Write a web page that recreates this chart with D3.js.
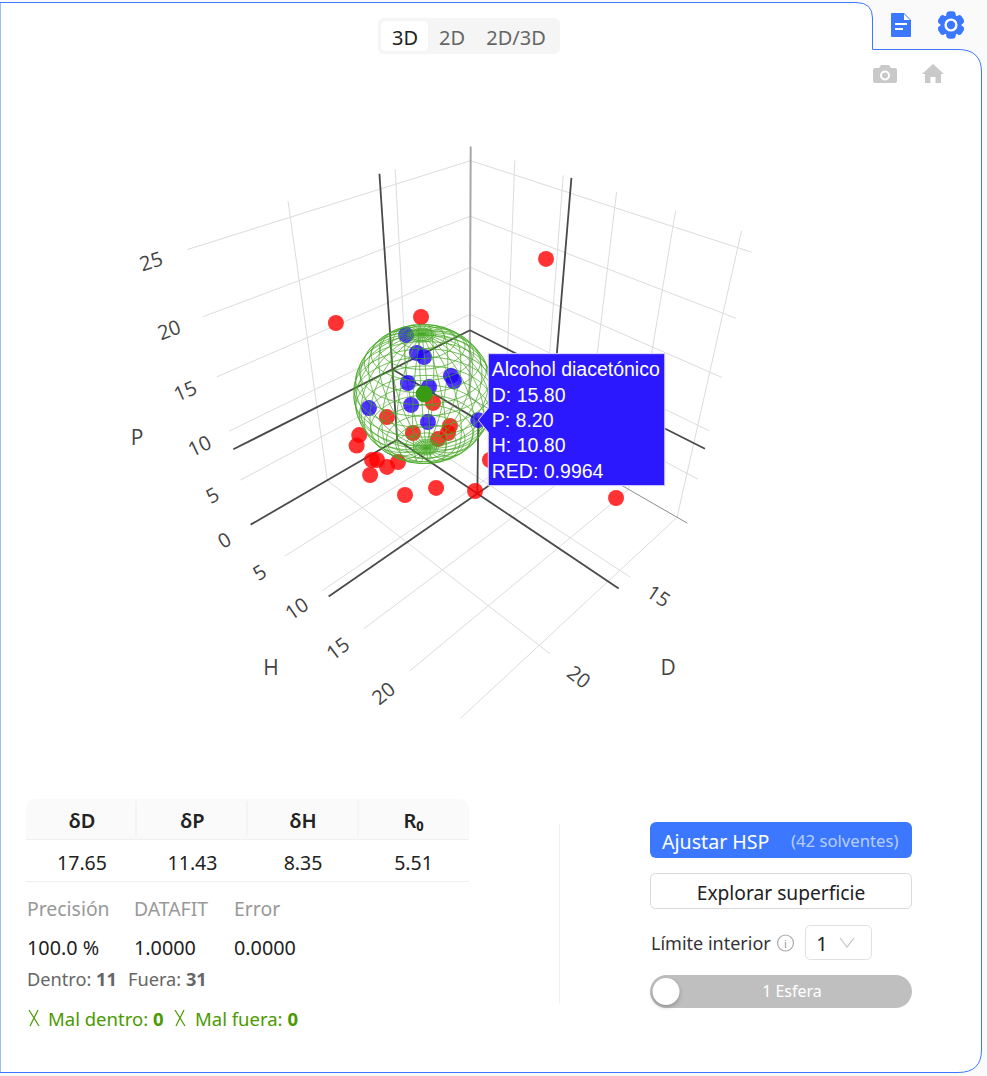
<!DOCTYPE html>
<html lang="es"><head><meta charset="utf-8">
<script src="https://cdn.jsdelivr.net/npm/d3@7"></script>
<style>
html,body{margin:0;padding:0;background:#fafafa;overflow:hidden}
svg{display:block}
text{font-family:"Noto Sans","Open Sans",sans-serif}
</style></head><body>
<svg id="chart" width="987" height="1076"></svg>
<script>
// Hansen solubility values of the solvents inside the sphere
const insideD=[17.33,17.27,17.14,17.98,17.45,16.54,16.58,18.21,19.53,18.06,15.80];
const insideP=[15.5,14.25,14,12.25,12,12.5,12.25,10.75,10.75,9.75,8.20];
const insideH=[5.77,6.83,7.36,7.22,8.52,9.15,9.56,8.01,6.00,9.60,10.80];
// Solvents outside the sphere
const outsideD=[17.13,17.42,19.98,14.32,17.44,16.56,15.01,14.99,15.63,18.00,18.20,18.18,17.84,17.25,17.83,18.56,18.15,16.85,15.75,15.53,15.47];
const outsideP=[26.2,18,18,4,6,4,4,3,3,3,2,1.5,1,1,1,0.5,0,0,0,8,4];
const outsideH=[18.80,7.82,4.12,2.09,2.85,4.19,5.78,5.47,5.47,0,0,2.09,1.93,3.50,3.32,2.63,6.41,7.68,10.42,24.25,11.62];
// Fitted sphere
const hspValues=[17.65,11.43,8.35,5.51];
const hspHeaders=["δD","δP","δH","R₀"];
// Axis ticks
const ticksD=[15,20];
const ticksH=[0,5,10,15,20,25];
const ticksP=[0,5,10,15,20,25];
const labelledH=[5,10,15,20];
const domainD=[10.75,24],domainH=[0,26],domainP=[0,26.2];
// Hovered solvent
const hoverName="Alcohol diacetónico",hoverD=15.80,hoverP=8.20,hoverH=10.80,hoverRED=0.9964;

const scaleD=d3.scaleLinear().domain(domainD).range([0,1]);
const scaleH=d3.scaleLinear().domain(domainH).range([0,1]);
const scaleP=d3.scaleLinear().domain(domainP).range([0,1]);

// Perspective camera acting on the unit cube
const cam=[[-231.3818,77.2352,-76.7249,404.9293],
           [20.2242,23.9726,-240.8244,343.0415],
           [-0.169802,-0.160702,-0.164967,0.862236]];
const cubeW=(u,v,t)=>cam[2][0]*u+cam[2][1]*v+cam[2][2]*t+cam[2][3];
const cube=(u,v,t)=>{
  const w=cubeW(u,v,t);
  return [(cam[0][0]*u+cam[0][1]*v+cam[0][2]*t+cam[0][3])/w,
          (cam[1][0]*u+cam[1][1]*v+cam[1][2]*t+cam[1][3])/w];
};
const project=(d,h,p)=>cube(scaleD(d),scaleH(h),scaleP(p));

const svg=d3.select("#chart");
const BLUE="#3b78ff";

// Page frame
svg.append("path").attr("fill","#fff").attr("stroke",BLUE).attr("stroke-width",1)
  .attr("d","M0,2.5H856Q872.5,2.5 872.5,18V49.5H958Q981.5,49.5 981.5,72V1050Q981.5,1072.5 958,1072.5H0Z");

const scene=svg.append("g");
const seg=(a,b,stroke,width)=>{
  const pa=project(...a),pb=project(...b);
  scene.append("line").attr("x1",pa[0]).attr("y1",pa[1]).attr("x2",pb[0]).attr("y2",pb[1])
    .attr("stroke",stroke).attr("stroke-width",width);
};
const [d0,d1]=domainD,[h0,h1]=domainH,[p0,p1]=domainP;
const GRID="#dcdcdc";
// Grid on the three walls
ticksP.filter(p=>p>0).forEach(p=>{seg([d0,0,p],[d1,0,p],GRID,1);seg([d0,0,p],[d0,h1,p],GRID,1);});
ticksD.forEach(d=>{seg([d,0,p0],[d,0,p1],GRID,1);seg([d,0,p0],[d,h1,p0],GRID,1);});
ticksH.filter(h=>h>0).forEach(h=>{seg([d0,h,p0],[d0,h,p1],GRID,1);seg([d0,h,p0],[d1,h,p0],GRID,1);});
// Zero lines
seg([d0,0,p0],[d0,0,p1],"#a8a8a8",2);
seg([d0,0,0],[d0,h1,0],"#8c8c8c",1);
seg([d0,0,0],[hoverD,0,0],"#c4c4c4",1);
// Spikes of the hovered solvent
const SPIKE="#4a4a4a";
seg([hoverD,0,0],[d1,0,0],SPIKE,1.8);
seg([d0,0,hoverP],[d1,0,hoverP],SPIKE,1.8);
seg([d0,0,hoverP],[d0,h1,hoverP],SPIKE,1.8);
seg([hoverD,0,p0],[hoverD,0,p1],SPIKE,1.8);
seg([d0,hoverH,p0],[d0,hoverH,p1],SPIKE,1.8);
seg([hoverD,0,p0],[hoverD,h1,p0],SPIKE,1.8);
seg([d0,hoverH,p0],[d1,hoverH,p0],SPIKE,1.8);
seg([hoverD,0,hoverP],[hoverD,hoverH,hoverP],SPIKE,1.8);
seg([hoverD,hoverH,0],[hoverD,hoverH,hoverP],SPIKE,1.8);
seg([d0,hoverH,hoverP],[hoverD,hoverH,hoverP],SPIKE,1.8);

// Tick labels follow the direction of their grid lines
const tickLabel=(a,b,pos,txt)=>{
  const pa=project(...a),pb=project(...b),c=pos;
  let ang=Math.atan2(pb[1]-pa[1],pb[0]-pa[0])*180/Math.PI;
  scene.append("text").attr("transform",`translate(${c[0]},${c[1]}) rotate(${ang})`)
    .attr("text-anchor","middle").attr("dominant-baseline","central")
    .attr("fill","#444").attr("font-size",20).style("font-family","'Open Sans'").text(txt);
};
ticksP.forEach(p=>tickLabel([d1,0,p],[d0,0,p],cube(1.095,0,scaleP(p)),p));
labelledH.forEach(h=>tickLabel([d1,h,0],[d0,h,0],cube(1.09,scaleH(h),0),h));
ticksD.forEach(d=>tickLabel([d,0,0],[d,h1,0],cube(scaleD(d),1.1,0),d));
[["P",137,437],["H",271,667],["D",668,667]].forEach(([t,x,y])=>{
  scene.append("text").attr("x",x).attr("y",y).attr("text-anchor","middle").attr("dominant-baseline","central")
    .attr("fill","#444").attr("font-size",21).style("font-family","'Open Sans'").text(t);
});

const markers=(D,P,H,fill)=>{
  scene.append("g").selectAll("circle").data(d3.range(D.length)).join("circle")
    .attr("cx",i=>project(D[i],H[i],P[i])[0]).attr("cy",i=>project(D[i],H[i],P[i])[1])
    .attr("r",8).attr("fill",fill).attr("fill-opacity",0.8);
};

// Wireframe of the sphere; the dispersion term counts double in Hansen space
const [cD,cP,cH,R0]=hspValues;
const surfData=(phi,th)=>[cD+R0/2*Math.cos(phi)*Math.cos(th),cH+R0*Math.cos(phi)*Math.sin(th),cP+R0*Math.sin(phi)];
const latCount=20,lonCount=28;
const wireSegments=[];
const pushRing=phi=>d3.range(72).forEach(k=>wireSegments.push([surfData(phi,2*Math.PI*k/72),surfData(phi,2*Math.PI*(k+1)/72)]));
d3.range(latCount+1).forEach(i=>pushRing(-Math.PI/2+Math.PI*i/latCount));
// Tight rings around both poles of the mesh
d3.range(1,7).forEach(k=>{const off=k*1.8*Math.PI/180;pushRing(Math.PI/2-off);pushRing(-Math.PI/2+off);});
d3.range(lonCount).forEach(j=>{
  const th=2*Math.PI*j/lonCount;
  d3.range(48).forEach(k=>wireSegments.push([surfData(-Math.PI/2+Math.PI*k/48,th),surfData(-Math.PI/2+Math.PI*(k+1)/48,th)]));
});
const depth=(d,h,p)=>cubeW(scaleD(d),scaleH(h),scaleP(p));
const centreDepth=depth(cD,cH,cP);
const isFront=s=>depth((s[0][0]+s[1][0])/2,(s[0][1]+s[1][1])/2,(s[0][2]+s[1][2])/2)<centreDepth;
const wireLayer=list=>scene.append("path").attr("fill","none").attr("stroke","#46a824").attr("stroke-width",0.9).attr("stroke-opacity",0.82)
  .attr("d",list.map(s=>{const a=project(...s[0]),b=project(...s[1]);return `M${a[0].toFixed(2)},${a[1].toFixed(2)}L${b[0].toFixed(2)},${b[1].toFixed(2)}`;}).join(""));

// Outside solvents lie behind the shell, inside solvents between its halves
markers(outsideD,outsideP,outsideH,"#ff0000");
wireLayer(wireSegments.filter(s=>!isFront(s)));
markers(insideD,insideP,insideH,"#2200ff");
wireLayer(wireSegments.filter(isFront));
const centre=project(cD,cH,cP);
scene.append("circle").attr("cx",centre[0]).attr("cy",centre[1]).attr("r",8.5).attr("fill","#399a14");

// Hover label
const hp=project(hoverD,hoverH,hoverP);
const tip=svg.append("g");
const bx=hp[0]+10,by=hp[1]-66.5,bw=176.5,bh=132;
tip.append("path").attr("fill","#2b18ff").attr("stroke","#dcd8ff").attr("stroke-width",1)
  .attr("d",`M${bx},${by}H${bx+bw}V${by+bh}H${bx}V${hp[1]+12}L${hp[0]},${hp[1]}L${bx},${hp[1]-12}Z`);
[hoverName,`D: ${hoverD.toFixed(2)}`,`P: ${hoverP.toFixed(2)}`,`H: ${hoverH.toFixed(2)}`,`RED: ${hoverRED.toFixed(4)}`].forEach((t,i)=>{
  tip.append("text").attr("x",bx+3.5).attr("y",by+22.5+i*25.4).attr("fill","#fff").attr("font-size",19.5)
    .style("font-family","'Liberation Sans'").text(t);
});

// Plot mode switch
const ui=svg.append("g");
const label=(x,y,t,size,fill,anchor,weight)=>ui.append("text").attr("x",x).attr("y",y).attr("font-size",size).attr("fill",fill)
  .attr("text-anchor",anchor||"start").attr("dominant-baseline","central").attr("font-weight",weight||400).text(t);
ui.append("rect").attr("x",378).attr("y",18).attr("width",182).attr("height",36).attr("rx",6).attr("fill","#f5f5f5");
ui.append("rect").attr("x",381).attr("y",21).attr("width",47).attr("height",30).attr("rx",4).attr("fill","#fff");
label(405,37,"3D",20,"#222","middle");
label(452,37,"2D",20,"#666","middle");
label(516,37,"2D/3D",20,"#666","middle");

// Document and settings icons
ui.append("path").attr("fill",BLUE).attr("d","M892,13H904L911,20V36Q911,37 910,37H892Q891,37 891,36V14Q891,13 892,13Z");
ui.append("path").attr("fill","#fff").attr("d","M904,14L910,20H904Z");
ui.append("rect").attr("x",895).attr("y",23).attr("width",12).attr("height",2).attr("fill","#fff");
ui.append("rect").attr("x",895).attr("y",28).attr("width",8).attr("height",2).attr("fill","#fff");
const gear=ui.append("g").attr("transform","translate(951,25)");
d3.range(6).forEach(i=>gear.append("rect").attr("x",-4.5).attr("y",-13.5).attr("width",9).attr("height",27).attr("rx",3).attr("fill",BLUE).attr("transform",`rotate(${i*60})`));
gear.append("circle").attr("r",10.5).attr("fill",BLUE);
gear.append("circle").attr("r",5.4).attr("fill","none").attr("stroke","#fff").attr("stroke-width",2.4);

// Camera and home icons of the plot toolbar
ui.append("path").attr("fill","#c9c9c9").attr("fill-rule","evenodd")
  .attr("d","M875,68H879L881,65H889L891,68H895Q897,68 897,70V81Q897,83 895,83H875Q873,83 873,81V70Q873,68 875,68ZM885,70.5A5,5 0 1,0 885,80.5A5,5 0 1,0 885,70.5Z");
ui.append("circle").attr("cx",885).attr("cy",75.5).attr("r",3).attr("fill","#c9c9c9");
ui.append("path").attr("fill","#c9c9c9").attr("d","M933,64L944,74H941V83H935.5V77H930.5V83H925V74H922Z");

// Sphere parameters table
ui.append("path").attr("fill","#fafafa").attr("d","M26,839V809Q26,799 36,799H459Q469,799 469,809V839Z");
[136,247,358].forEach(x=>ui.append("line").attr("x1",x).attr("x2",x).attr("y1",801).attr("y2",836).attr("stroke","#f0f0f0").attr("stroke-width",1.2));
[839.5,881.5].forEach(y=>ui.append("line").attr("x1",26).attr("x2",469).attr("y1",y).attr("y2",y).attr("stroke","#efefef"));
const colX=d3.scalePoint().domain(d3.range(4)).range([82,413.5]);
hspHeaders.forEach((t,i)=>label(colX(i),820,t,20,"#222","middle",600));
hspValues.forEach((v,i)=>label(colX(i),862,v.toFixed(2),19.5,"#222","middle"));

// Fit quality
[["Precisión",27],["DATAFIT",134],["Error",234]].forEach(([t,x])=>label(x,908,t,19.4,"#999"));
[["100.0 %",27],["1.0000",134],["0.0000",234]].forEach(([t,x])=>label(x,947.5,t,19.8,"#222"));
const rich=(x,y,size,fill,parts)=>{
  const t=ui.append("text").attr("x",x).attr("y",y).attr("font-size",size).attr("fill",fill).attr("dominant-baseline","central");
  parts.forEach(([s,b])=>t.append("tspan").attr("font-weight",b?700:400).text(s));
};
rich(27,979,18.2,"#666",[["Dentro: ",0],["11",1]]);
rich(128,979,18.2,"#666",[["Fuera: ",0],["31",1]]);
rich(48,1018,18.5,"#4a9a00",[["Mal dentro: ",0],["0",1]]);
rich(195,1018,18.5,"#4a9a00",[["Mal fuera: ",0],["0",1]]);
[[29,39],[175,185]].forEach(([a,b])=>ui.append("path").attr("fill","none").attr("stroke","#4a9a00").attr("stroke-width",1.2)
  .attr("d",`M${a},1010L${b},1026M${b-1},1010L${a+1},1026`));

// Controls
ui.append("line").attr("x1",559.5).attr("x2",559.5).attr("y1",824).attr("y2",1003).attr("stroke","#f0f0f0");
ui.append("rect").attr("x",650).attr("y",822).attr("width",262).attr("height",36).attr("rx",6).attr("fill",BLUE);
label(662,841,"Ajustar HSP",19.6,"#fff");
label(791,840,"(42 solventes)",16.7,"rgba(255,255,255,.65)");
ui.append("rect").attr("x",650.5).attr("y",873.5).attr("width",261).attr("height",35).attr("rx",5).attr("fill","#fff").attr("stroke","#d9d9d9");
label(781,892,"Explorar superficie",19.2,"#222","middle");
label(651,943,"Límite interior",18,"#333");
ui.append("circle").attr("cx",785.5).attr("cy",943).attr("r",8).attr("fill","none").attr("stroke","#aaa").attr("stroke-width",1.2);
label(785.5,943,"i",11,"#999","middle");
ui.append("rect").attr("x",805.5).attr("y",925.5).attr("width",66).attr("height",34).attr("rx",5).attr("fill","#fff").attr("stroke","#e0e0e0");
label(822,943,"1",20,"#222","middle");
ui.append("path").attr("fill","none").attr("stroke","#c4c4c4").attr("stroke-width",1.2).attr("d","M840,938L847,947L854,938");
ui.append("rect").attr("x",650).attr("y",975).attr("width",262).attr("height",33).attr("rx",16.5).attr("fill","#bfbfbf");
ui.append("circle").attr("cx",666).attr("cy",991.5).attr("r",13.5).attr("fill","#fff").style("filter","drop-shadow(0 2px 2px rgba(0,0,0,.25))");
label(792,991,"1 Esfera",16,"#fff","middle");
</script></body></html>
